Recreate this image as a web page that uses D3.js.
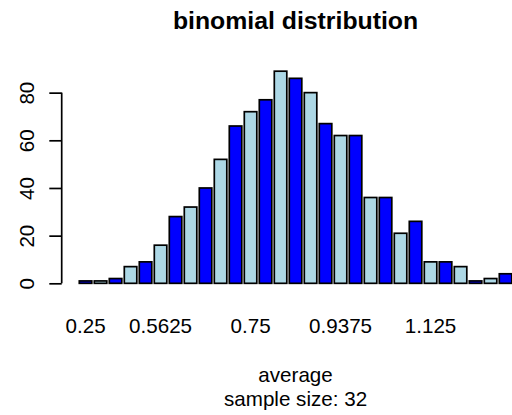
<!DOCTYPE html>
<html>
<head>
<meta charset="utf-8">
<script src="https://cdn.jsdelivr.net/npm/d3@7"></script>
<style>
  html, body { margin: 0; padding: 0; background: #fff; }
  svg { display: block; }
  text { font-family: "Liberation Sans", Arial, Helvetica, sans-serif; fill: #000; }
</style>
</head>
<body>
<svg id="chart" width="512" height="415"></svg>
<script>
// ---- data ----
const counts = [1, 1, 2, 7, 9, 16, 28, 32, 40, 52, 66, 72, 77, 89, 86, 80, 67, 62, 62, 36, 36, 21, 26, 9, 9, 7, 1, 2, 4];
const tickLabels = ["0.25", "0.5625", "0.75", "0.9375", "1.125"];
const tickBars = [0, 5, 11, 17, 23];
const yTicks = [0, 20, 40, 60, 80];
const barColors = ["#0000FF", "#ADD8E6"];
const title = "binomial distribution";
const xLabel = "average";
const subLabel = "sample size: 32";

// ---- layout ----
const svg = d3.select("#chart");
const plotLeft = 62, plotRight = 529.1, plotTop = 62.7, plotBottom = 291.8;
const space = 0.2, barW = 1;
const n = counts.length;
const xMin = space, xMax = n * (barW + space);
const xPad = (xMax - xMin) * 0.04;
const x = d3.scaleLinear().domain([xMin - xPad, xMax + xPad]).range([plotLeft, plotRight]);
const yMax = d3.max(counts);
const yPad = yMax * 0.04;
const y = d3.scaleLinear().domain([-yPad, yMax + yPad]).range([plotBottom, plotTop]);
const lw = 1.7;
const fs = 20.6;

// bars
svg.append("g").selectAll("rect").data(counts).join("rect")
  .attr("x", (d, i) => x(space + i * (barW + space)))
  .attr("width", (d, i) => x(space + i * (barW + space) + barW) - x(space + i * (barW + space)))
  .attr("y", d => y(d))
  .attr("height", d => y(0) - y(d))
  .attr("fill", (d, i) => barColors[i % 2])
  .attr("stroke", "#000")
  .attr("stroke-width", lw);

// y axis
const yAxis = d3.axisLeft(y).tickValues(yTicks).tickSize(12.4).tickSizeOuter(0).tickFormat(d3.format("d"));
const gy = svg.append("g").attr("transform", `translate(${plotLeft - 0.3},0)`).call(yAxis);
gy.select(".domain").remove();
gy.append("line")
  .attr("x1", 0).attr("x2", 0)
  .attr("y1", y(yTicks[0])).attr("y2", y(yTicks[yTicks.length - 1]))
  .attr("stroke", "#000").attr("stroke-width", lw);
gy.selectAll(".tick line").attr("stroke", "#000").attr("stroke-width", lw);
gy.selectAll(".tick text").remove();
gy.selectAll(".tick").append("text")
  .attr("transform", `translate(${33.5 - (plotLeft - 0.3)},0) rotate(-90)`)
  .attr("text-anchor", "middle")
  .attr("font-size", fs)
  .attr("fill", "#000")
  .text(d => d);

// x labels (bar names)
svg.append("g").selectAll("text").data(tickBars).join("text")
  .attr("x", (b, k) => x(space + b * (barW + space) + barW / 2))
  .attr("y", 333)
  .attr("text-anchor", "middle")
  .attr("font-size", fs)
  .text((b, k) => tickLabels[k]);

const cx = (plotLeft + plotRight) / 2;
svg.append("text").attr("x", cx).attr("y", 29).attr("text-anchor", "middle")
  .attr("font-size", 24.8).attr("font-weight", "bold").text(title);
svg.append("text").attr("x", cx).attr("y", 381.5).attr("text-anchor", "middle")
  .attr("font-size", fs).text(xLabel);
svg.append("text").attr("x", cx).attr("y", 405.5).attr("text-anchor", "middle")
  .attr("font-size", fs).text(subLabel);
</script>
</body>
</html>
